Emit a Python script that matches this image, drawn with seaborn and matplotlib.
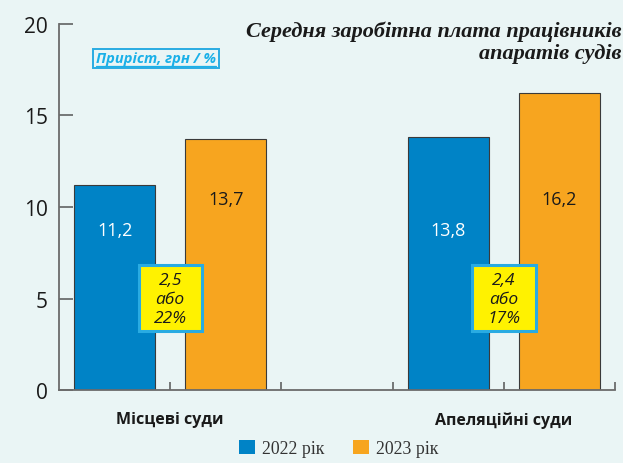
import matplotlib
matplotlib.use("Agg")
import matplotlib.pyplot as plt
import matplotlib.patches as mpatches
from matplotlib.lines import Line2D
import seaborn as sns
import pandas as pd

# ---- data ----
categories = ["Місцеві суди", "Апеляційні суди"]
years = ["2022 рік", "2023 рік"]
values_2022 = [11.2, 13.8]
values_2023 = [13.7, 16.2]
growth_abs = ["2,5", "2,4"]
growth_pct = ["22%", "17%"]
y_ticks = [0, 5, 10, 15, 20]
title_lines = ["Середня заробітна плата працівників", "апаратів судів"]
growth_label = "Приріст, грн / %"

BLUE = "#0083c6"
ORANGE = "#f7a51f"
BG = "#eaf5f5"

slots = ["s0", "s1", "gap", "s3", "s4"]
df = pd.DataFrame({
    "slot": ["s0", "s1", "s3", "s4"],
    "value": [values_2022[0], values_2023[0], values_2022[1], values_2023[1]],
    "year": [years[0], years[1], years[0], years[1]],
})

sns.set_style("white")
plt.rcParams["font.family"] = ["Open Sans", "DejaVu Sans"]

fig = plt.figure(figsize=(6.23, 4.64), dpi=100, facecolor=BG)
ax = fig.add_axes([0.0947, 0.1567, 0.8925, 0.7901])
ax.set_facecolor(BG)

sns.barplot(data=df, x="slot", y="value", hue="year", order=slots,
            hue_order=years, palette=[BLUE, ORANGE], dodge=False,
            saturation=1, width=0.73, edgecolor="#3a3a3a", linewidth=0.8,
            legend=False, ax=ax)

ax.set_xlim(-0.5, 4.5)
ax.set_ylim(0, 20)
ax.set_xlabel("")
ax.set_ylabel("")

for s in ["top", "right"]:
    ax.spines[s].set_visible(False)
for s in ["left", "bottom"]:
    ax.spines[s].set_color("#6b6b6b")
    ax.spines[s].set_linewidth(1.3)

ax.set_yticks(y_ticks)
ax.set_yticklabels([str(v) for v in y_ticks], fontsize=15, color="#1a1a1a")
ax.tick_params(axis="y", direction="in", length=10, width=1.1,
               color="#555555", pad=8, left=True)

ax.set_xticks([0.5, 1.5, 2.5, 3.5, 4.5])
ax.set_xticklabels([categories[0], "", "", categories[1], ""],
                   fontsize=11.5, fontweight="bold", color="#1a1a1a")
ax.tick_params(axis="x", direction="in", length=6, width=1.1,
               color="#555555", pad=15, bottom=True)

# bar value labels
bar_pos = [0, 1, 3, 4]
bar_vals = [values_2022[0], values_2023[0], values_2022[1], values_2023[1]]
for i, (p, v) in enumerate(zip(bar_pos, bar_vals)):
    is2022 = (i % 2 == 0)
    ax.text(p, 8.75 if is2022 else 10.45, f"{v:.1f}".replace(".", ","),
            ha="center", va="center", fontsize=13,
            color="white" if is2022 else "#1a1a1a")

# growth boxes
for gx, a, pc in zip([0.5, 3.5], growth_abs, growth_pct):
    ax.add_patch(mpatches.Rectangle((gx - 0.285, 3.25), 0.57, 3.58,
                                    facecolor="#fff200", edgecolor="#29abe2",
                                    linewidth=2.2, zorder=4))
    ax.text(gx, 5.0, f"{a}\nабо\n{pc}", ha="center", va="center",
            fontsize=12.5, style="italic", color="#1a1a1a",
            linespacing=1.25, zorder=5)

# title
serif = ["Liberation Serif", "DejaVu Serif"]
fig.text(0.998, 0.920, title_lines[0], ha="right", va="baseline",
         fontsize=16, style="italic", fontweight="bold",
         family=serif, color="#1a1a1a")
fig.text(0.998, 0.873, title_lines[1], ha="right", va="baseline",
         fontsize=16, style="italic", fontweight="bold",
         family=serif, color="#1a1a1a")

# growth label box
fig.add_artist(mpatches.Rectangle((93 / 623, 1 - 69 / 464), 126 / 623, 19 / 464,
                                  transform=fig.transFigure, facecolor="none",
                                  edgecolor="#29abe2", linewidth=1.4))
fig.text(156 / 623, 1 - 59.5 / 464, growth_label, ha="center", va="center",
         fontsize=10.5, style="italic", fontweight="bold", color="#1ab0e8")
fig.add_artist(Line2D([96 / 623, 216 / 623], [1 - 66.5 / 464, 1 - 66.5 / 464],
                      transform=fig.transFigure, color="#1ab0e8", linewidth=0.9))

# legend
handles = [mpatches.Patch(facecolor=BLUE, edgecolor="none"),
           mpatches.Patch(facecolor=ORANGE, edgecolor="none")]
leg = fig.legend(handles, years, loc="lower center",
                 bbox_to_anchor=(0.543, -0.022), ncol=2, frameon=False,
                 handlelength=0.9, handleheight=0.9, handletextpad=0.4,
                 columnspacing=1.6,
                 prop={"family": serif, "size": 12.8})
for txt in leg.get_texts():
    txt.set_color("#333333")

fig.savefig("out.png", dpi=100, facecolor=BG)
